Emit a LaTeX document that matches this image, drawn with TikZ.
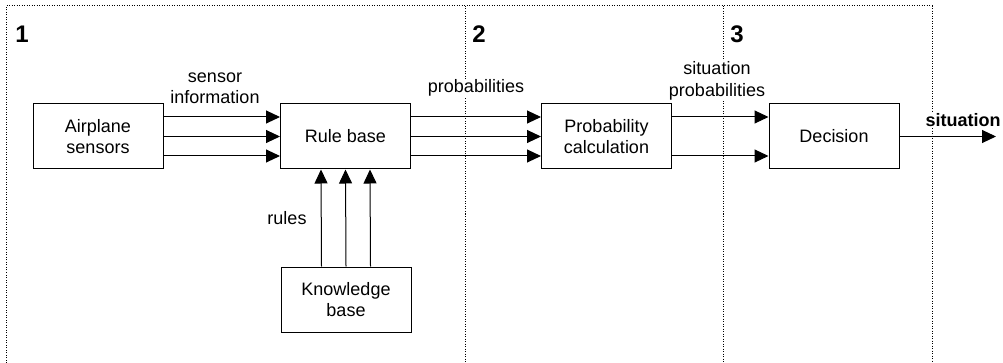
\documentclass[tikz,border=0pt]{standalone}
\usepackage{fontspec}
\setmainfont{Liberation Sans}
\usetikzlibrary{arrows.meta, positioning, calc}

\begin{document}
\begin{tikzpicture}[x=1pt, y=-1pt,
        block/.style={draw, line width=1pt, minimum width=130pt, minimum height=65pt, align=center, font=\fontsize{18}{21.5}\selectfont},
        flow/.style={line width=1pt, -{Triangle[length=14pt, width=13pt]}},
        tag/.style={fill=white, inner sep=1pt, align=center, font=\fontsize{18}{21.5}\selectfont},
        zone/.style={line width=1pt, dash pattern=on 1pt off 1.5pt, black},
        zonenum/.style={font=\fontsize{24}{26}\selectfont\bfseries}]
        \useasboundingbox (0,0) rectangle (1003,363);

        \draw[zone] (6,363) -- (6,6) -- (932,6) -- (932,363);
        \draw[zone] (465,6) -- (465,363);
        \draw[zone] (723,6) -- (723,363);
        \node[zonenum] (n1) at (22,34) {1};
        \node[zonenum] (n2) at (479,34) {2};
        \node[zonenum] (n3) at (737,34) {3};

        \node[block] (sensors) at (98,136.5) {Airplane\\sensors};
        \node[block] (rulebase) at (345.5,136.5) {Rule base};
        \node[block] (knowledge) at (346,299.5) {Knowledge\\base};
        \node[block] (probcalc) at (606.5,136.5) {Probability\\calculation};
        \node[block] (decision) at (834,136.5) {Decision};
        \coordinate (outend) at (996,136.5);

        \node[tag] (sensorinfo) at (215,88) {sensor\\information};
        \node[tag] (probs) at (476,88) {probabilities};
        \node[tag] (sitprobs) at (717,81) {situation\\probabilities};
        \node[tag] (rules) at (287,218) {rules};
        \node[tag, font=\fontsize{18}{21.5}\selectfont\bfseries] (situation) at (963,120) {situation};

        \foreach \dy in {19.5, 0, -19.5} {
          \draw[flow] ([yshift=\dy pt]sensors.east) -- ([yshift=\dy pt]rulebase.west);
          \draw[flow] ([yshift=\dy pt]rulebase.east) -- ([yshift=\dy pt]probcalc.west);
        }
        \foreach \dx in {-24.5, 0, 24.5} {
          \draw[flow] ([xshift=\dx pt]knowledge.north) -- ([xshift=\dx pt]rulebase.south);
        }
        \draw[flow] ([yshift=19.5pt]probcalc.east) -- ([yshift=19.5pt]decision.west);
        \draw[flow] ([yshift=-19.5pt]probcalc.east) -- ([yshift=-19.5pt]decision.west);
        \draw[flow] (decision.east) -- (outend);

      \end{tikzpicture}
\end{document}
